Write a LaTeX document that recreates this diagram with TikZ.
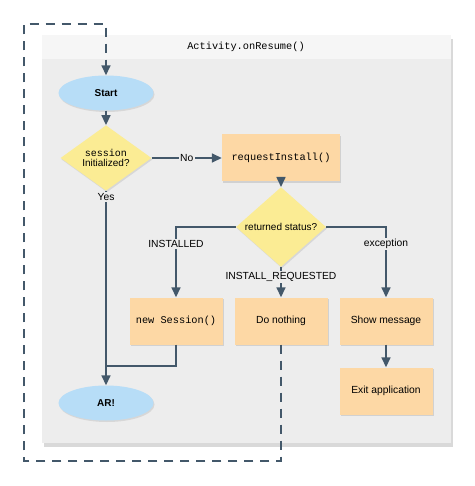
\documentclass[tikz,border=0pt]{standalone}
\usepackage{fontspec}
\setmainfont{Liberation Sans}
\setmonofont{Liberation Mono}
\usetikzlibrary{shapes.geometric,arrows.meta,shadows}

\definecolor{panelgray}{HTML}{EDEDED}
\definecolor{headgray}{HTML}{F6F6F6}
\definecolor{termblue}{HTML}{B7DDF7}
\definecolor{askyellow}{HTML}{FBEC94}
\definecolor{doorange}{HTML}{FDD8A5}
\definecolor{wire}{HTML}{43586A}

\tikzset{
  flow/.style={draw=wire,line width=1.6pt,-{Triangle[width=9pt,length=10pt]}},
  wirepart/.style={draw=wire,line width=1.6pt},
  loopline/.style={draw=wire,line width=1.6pt,dash pattern=on 9pt off 7pt},
  term/.style={ellipse,fill=termblue,minimum width=95pt,minimum height=35pt,inner sep=0pt,font=\bfseries,drop shadow={shadow xshift=1pt,shadow yshift=-1.5pt,opacity=.2}},
  ask/.style={diamond,fill=askyellow,minimum width=91pt,minimum height=47pt,inner sep=0pt,align=center,font=\linespread{0.9}\selectfont,drop shadow={shadow xshift=1pt,shadow yshift=-1.5pt,opacity=.2}},
  dobox/.style={rectangle,fill=doorange,minimum width=93pt,minimum height=47pt,inner sep=0pt,drop shadow={shadow xshift=1pt,shadow yshift=-1.5pt,opacity=.25}},
  tag/.style={fill=panelgray,inner sep=1.5pt}
}

\begin{document}
\begin{tikzpicture}[x=1pt,y=-1pt,font=\fontsize{10.3}{12}\selectfont]
\useasboundingbox (0,0) rectangle (474,486);

% panel
\fill[panelgray,drop shadow={shadow xshift=2pt,shadow yshift=-4pt,opacity=.3}] (42,35) rectangle (451,443);
\fill[headgray] (42,35) rectangle (451,59);
\draw (246,47) node(title) {\texttt{Activity.onResume()}};

% nodes
\draw (106,93) node[term](start) {Start};
\draw (106,158) node[ask](init) {\texttt{session}\\Initialized?};
\draw (281,158) node[dobox,minimum width=118pt](install) {\texttt{requestInstall()}};
\draw (281,227) node[ask,minimum width=90pt,minimum height=45pt](status) {returned status?};
\draw (176,321) node[dobox](newsess) {\texttt{new Session()}};
\draw (281,321) node[dobox](nothing) {Do nothing};
\draw (386,321) node[dobox](showmsg) {Show message};
\draw (386,391) node[dobox](exitapp) {Exit application};
\draw (106,403) node[term](ar) {AR!};

% connectors
\draw[flow] (start) -- (init);
\draw[flow] (init) -- node[tag](no) {No} (install);
\draw[flow] (init) -- node[tag,pos=0.03](yes) {Yes} (ar);
\draw[flow] (install) -- (status);
\draw[flow] (status.west) -| node[tag,pos=0.62](inst) {INSTALLED} (newsess);
\draw[flow] (status) -- node[tag,pos=0.32](instreq) {INSTALL\_REQUESTED} (nothing);
\draw[flow] (status.east) -| node[tag,pos=0.62](exc) {exception} (showmsg);
\draw[flow] (showmsg) -- (exitapp);
\draw[wirepart] (newsess.south) |- (106,366);

% resume loop
\coordinate (loopa) at (281,461);
\coordinate (loopb) at (24,461);
\coordinate (loopc) at (24,24);
\coordinate (loopd) at (106,24);
\draw[loopline] (nothing.south) -- (loopa) -- (loopb) -- (loopc) -- (loopd) -- (106,66);
\draw[flow,dash pattern=on 9pt off 7pt] (106,62) -- (start.north);
\end{tikzpicture}
\end{document}
